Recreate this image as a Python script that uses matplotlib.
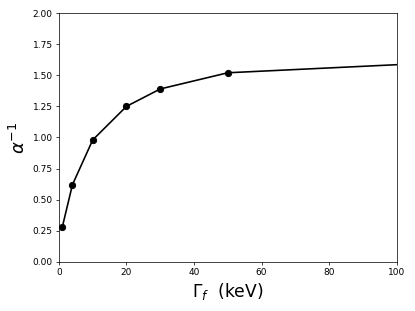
import numpy as np
import matplotlib
matplotlib.use("Agg")
import matplotlib.pyplot as plt

# width of the f-resonance vs inverse alpha
gamma_f = [1, 4, 10, 20, 30, 50, 200]
alpha_inv = [0.28, 0.62, 0.98, 1.25, 1.39, 1.52, 1.715]

fig = plt.figure(figsize=(415/65, 311/65), dpi=65)
ax = fig.add_axes([0.142, 0.158, 0.814, 0.800])
ax.plot(gamma_f, alpha_inv, 'k-o', markersize=7, lw=1.8)
ax.set_xlim(0, 100)
ax.set_ylim(0, 2.0)
ax.set_yticks(np.arange(0, 2.01, 0.25))
ax.set_xlabel(r"$\Gamma_f$  (keV)", fontsize=19)
ax.set_ylabel(r"$\alpha^{-1}$", fontsize=20)
fig.savefig("out.png", dpi=65)
